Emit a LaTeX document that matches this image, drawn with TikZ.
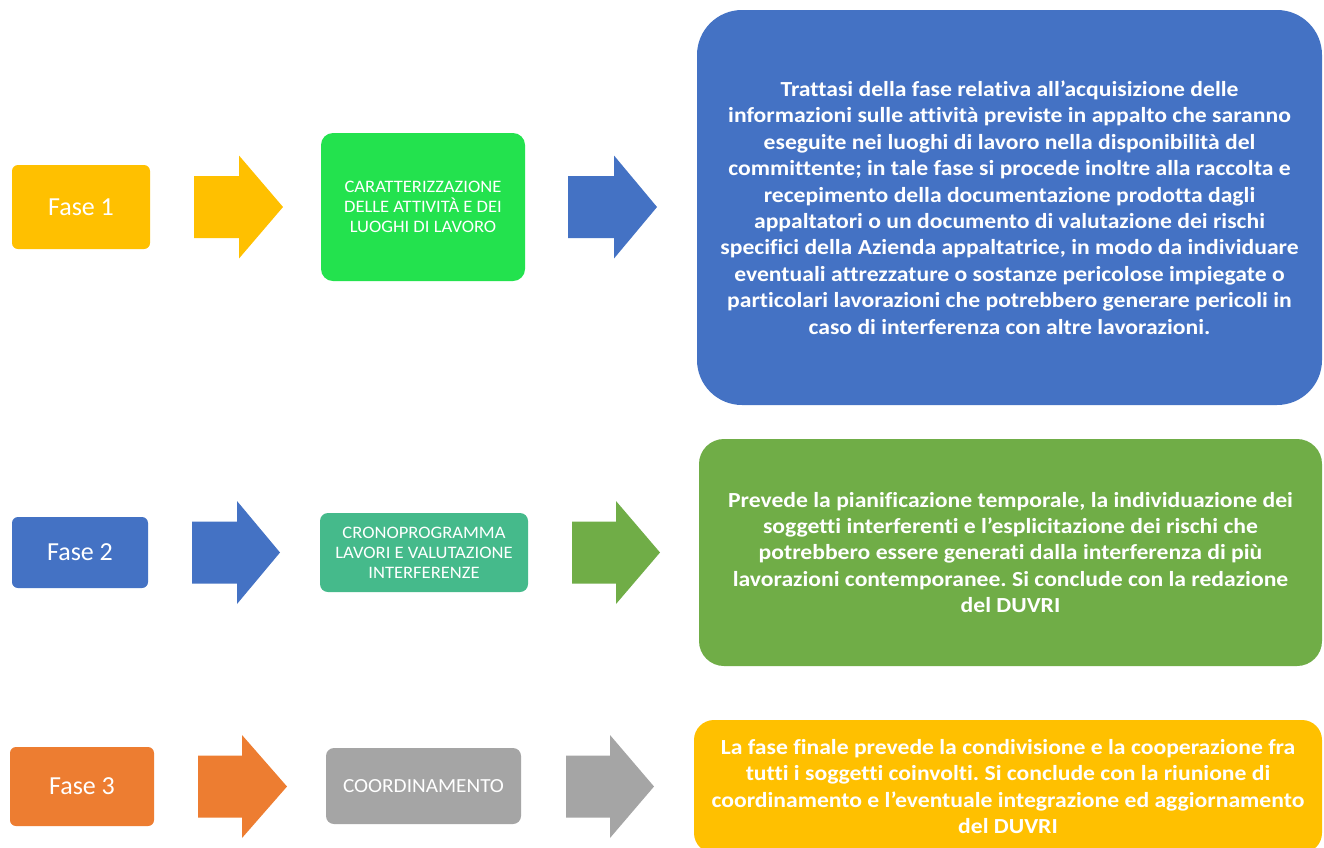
\documentclass[tikz,border=0pt]{standalone}
\usepackage{fontspec}
\setmainfont{Carlito}[Ligatures=NoCommon]
\newfontfamily\bigfont{Carlito}[Ligatures=NoCommon,FakeStretch=1.10]
\newfontfamily\midfont{Carlito}[Ligatures=NoCommon,FakeStretch=1.06]
\frenchspacing
\definecolor{cyellow}{HTML}{FFC000}
\definecolor{cblue}{HTML}{4472C4}
\definecolor{cbright}{HTML}{23E24E}
\definecolor{cteal}{HTML}{45BA8B}
\definecolor{cgreen}{HTML}{70AD47}
\definecolor{corange}{HTML}{ED7D31}
\definecolor{cgray}{HTML}{A5A5A5}
\newcommand\blockarr[5]{\fill[#1] (#2,#5-31) -- (#3,#5-31) -- (#3,#5-51.5) -- (#4,#5) -- (#3,#5+51.5) -- (#3,#5+31) -- (#2,#5+31) -- cycle;}
\begin{document}
\begin{tikzpicture}[x=1pt,y=-1pt,
  every node/.style={inner sep=0pt, outer sep=0pt, text=white, align=center},
  fasebox/.style={rectangle, rounded corners=6pt, font=\fontsize{26}{30}\selectfont},
  midbox/.style={rectangle, font=\midfont\fontsize{17.5}{20}\selectfont\frenchspacing},
  bigbox/.style={rectangle, font=\bigfont\fontsize{21.5}{26.4}\selectfont\bfseries\frenchspacing}]
\useasboundingbox (0,0) rectangle (1324,847);
\fill[white] (0,0) rectangle (1324,847);
% row 1
\node[fasebox, fill=cyellow, minimum width=138pt, minimum height=84pt] (f1) at (81,207) {Fase 1};
\node[midbox, fill=cbright, rounded corners=12pt, minimum width=204pt, minimum height=148pt] (m1) at (423,207) {CARATTERIZZAZIONE\\DELLE ATTIVITÀ E DEI\\LUOGHI DI LAVORO};
\node[bigbox, fill=cblue, rounded corners=45pt, minimum width=625pt, minimum height=395pt] (b1) at (1009.5,207.5) {Trattasi della fase relativa all’acquisizione delle\\informazioni sulle attività previste in appalto che saranno\\eseguite nei luoghi di lavoro nella disponibilità del\\committente; in tale fase si procede inoltre alla raccolta e\\recepimento della documentazione prodotta dagli\\appaltatori o un documento di valutazione dei rischi\\specifici della Azienda appaltatrice, in modo da individuare\\eventuali attrezzature o sostanze pericolose impiegate o\\particolari lavorazioni che potrebbero generare pericoli in\\caso di interferenza con altre lavorazioni.};
\blockarr{cyellow}{194}{239}{283}{207}
\blockarr{cblue}{568}{614}{657}{207}
% row 2
\node[fasebox, fill=cblue, minimum width=136pt, minimum height=71pt] (f2) at (80,552.5) {Fase 2};
\node[midbox, fill=cteal, rounded corners=8pt, minimum width=208pt, minimum height=79pt] (m2) at (424,552.5) {CRONOPROGRAMMA\\LAVORI E VALUTAZIONE\\INTERFERENZE};
\node[bigbox, fill=cgreen, rounded corners=25pt, minimum width=623pt, minimum height=227pt] (b2) at (1010.5,552.5) {Prevede la pianificazione temporale, la individuazione dei\\soggetti interferenti e l’esplicitazione dei rischi che\\potrebbero essere generati dalla interferenza di più\\lavorazioni contemporanee. Si conclude con la redazione\\del DUVRI};
\blockarr{cblue}{192}{237}{280}{552.5}
\blockarr{cgreen}{572}{616}{660}{552.5}
% row 3
\node[fasebox, fill=corange, minimum width=144pt, minimum height=79pt] (f3) at (82,786.5) {Fase 3};
\node[midbox, font=\midfont\fontsize{20}{24}\selectfont, fill=cgray, rounded corners=8pt, minimum width=195pt, minimum height=76pt] (m3) at (423.5,786) {COORDINAMENTO};
\node[bigbox, fill=cyellow, rounded corners=20pt, minimum width=628pt, minimum height=133pt] (b3) at (1008,786.5) {La fase finale prevede la condivisione e la cooperazione fra\\tutti i soggetti coinvolti. Si conclude con la riunione di\\coordinamento e l’eventuale integrazione ed aggiornamento\\del DUVRI};
\blockarr{corange}{198}{242}{287}{786.5}
\blockarr{cgray}{566}{610}{654}{786.5}
\end{tikzpicture}
\end{document}
